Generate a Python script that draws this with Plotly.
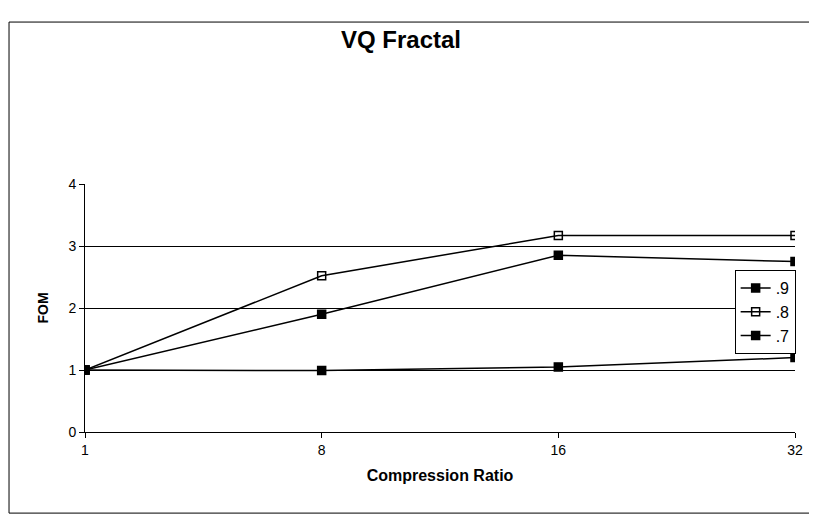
import plotly.graph_objects as go

ratios = ["1", "8", "16", "32"]
fom_9 = [1.0, 1.9, 2.85, 2.75]
fom_8 = [1.0, 2.52, 3.17, 3.17]
fom_7 = [1.0, 0.99, 1.05, 1.2]
series_names = [".9", ".8", ".7"]

font = "Liberation Sans, Arial, sans-serif"

fig = go.Figure()
for name, vals, sym in zip(series_names, [fom_9, fom_8, fom_7],
                           ["square", "square-open", "square"]):
	fig.add_trace(go.Scatter(x=ratios, y=vals, name=name, mode="lines+markers",
		line=dict(color="black", width=1.5),
		marker=dict(symbol=sym, size=8, color="black",
					line=dict(color="black", width=1.5))))

# page has an 8px body margin, so margins are shifted to compensate
fig.update_layout(
	width=817, height=517,
	margin=dict(l=77, r=30, t=176, b=93),
	paper_bgcolor="white", plot_bgcolor="white",
	font=dict(family=font, size=14, color="black"),
	title=dict(text="<b>VQ Fractal</b>", x=0.481, xanchor="center",
			   y=0.938, yanchor="middle", font=dict(size=24)),
	legend=dict(x=0.915, y=0.653, xanchor="left", yanchor="top",
				bordercolor="black", borderwidth=1, bgcolor="white",
				font=dict(size=16), itemwidth=30, tracegroupgap=0),
	shapes=[dict(type="rect", xref="paper", yref="paper",
				 x0=-0.107, x1=1.1, y0=-0.327, y1=1.653,
				 line=dict(color="black", width=1))],
)

fig.update_xaxes(type="category", range=[0, 3], showgrid=False,
	showline=True, linecolor="black", linewidth=1,
	ticks="outside", ticklen=5, tickcolor="black",
	title=dict(text="<b>Compression Ratio</b>", font=dict(size=16), standoff=13))
fig.update_yaxes(range=[0, 4], dtick=1, showgrid=True, gridcolor="black",
	gridwidth=1, showline=True, linecolor="black", linewidth=1,
	ticks="outside", ticklen=5, tickcolor="black", zeroline=False,
	title=dict(text="<b>FOM</b>", font=dict(size=14), standoff=16))

fig.write_html("out.html")
